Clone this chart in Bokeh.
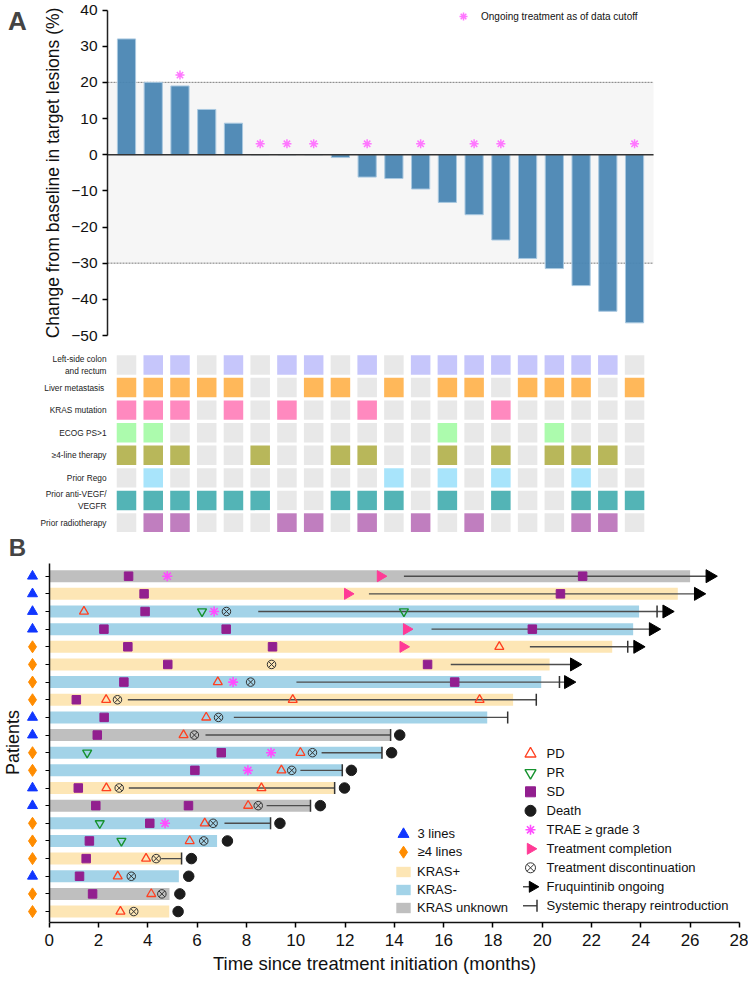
import math
from bokeh.plotting import figure
from bokeh.models import (Range1d, FixedTicker, BoxAnnotation, Label,
                          Legend, LegendItem, ColumnDataSource)
from bokeh.layouts import column
from bokeh.embed import file_html
from bokeh.resources import INLINE

FONT = "Liberation Sans"

# ---------------- Panel A data ----------------
patient_idx = list(range(20))
change_pct = [32.0, 20.0, 19.0, 12.5, 8.7, 0.0, 0.0, 0.0, -0.8, -6.2,
              -6.6, -9.5, -13.2, -16.6, -23.6, -28.7, -31.5, -36.2, -43.3, -46.5]
ongoing_flag = [0, 0, 1, 0, 0, 1, 1, 1, 0, 1, 0, 1, 0, 1, 1, 0, 0, 0, 0, 1]
y_ticks_a = [-50, -40, -30, -20, -10, 0, 10, 20, 30, 40]
pd_threshold = 20
pr_threshold = -30

grid_labels = ["Left-side colon\nand rectum", "Liver  metastasis", "KRAS mutation",
               "ECOG PS>1", "\u22654-line therapy", "Prior Rego",
               "Prior anti-VEGF/\nVEGFR", "Prior radiotherapy"]
grid_colors = ["#c6c6fb", "#ffb85a", "#ff89bf", "#acfbad", "#b8b75a",
               "#a8e4fb", "#53b4b6", "#c07ebf"]
left_side  = [0, 1, 1, 0, 1, 0, 1, 1, 0, 1, 0, 1, 1, 1, 1, 1, 1, 1, 1, 0]
liver_met  = [1, 1, 1, 1, 1, 0, 0, 1, 1, 0, 1, 0, 1, 1, 0, 1, 1, 1, 0, 1]
kras_mut   = [1, 1, 1, 0, 1, 0, 1, 0, 0, 1, 0, 0, 0, 0, 1, 0, 0, 0, 0, 0]
ecog_ps    = [1, 1, 0, 0, 0, 0, 0, 0, 0, 0, 0, 0, 1, 0, 0, 0, 1, 0, 0, 0]
line4_plus = [1, 1, 1, 0, 0, 1, 0, 0, 1, 1, 0, 0, 1, 0, 1, 0, 1, 1, 1, 0]
prior_rego = [0, 1, 0, 0, 0, 0, 0, 0, 0, 0, 1, 0, 1, 0, 1, 0, 0, 1, 0, 0]
prior_vegf = [1, 1, 1, 1, 1, 1, 0, 0, 1, 1, 1, 0, 1, 0, 1, 0, 0, 1, 1, 1]
prior_radio = [0, 1, 1, 0, 0, 0, 1, 1, 0, 1, 0, 1, 0, 1, 0, 0, 0, 1, 1, 0]
grid_rows = [left_side, liver_met, kras_mut, ecog_ps, line4_plus,
             prior_rego, prior_vegf, prior_radio]

# ---------------- Panel B data ----------------
row_idx = list(range(1, 21))
bar_end = [26.0, 25.5, 23.93, 23.69, 22.84, 20.3, 19.96, 18.82, 17.77, 13.85,
           13.5, 11.89, 11.58, 10.6, 8.98, 6.81, 5.37, 5.26, 4.88, 4.87]
kras_status = ["unknown", "+", "-", "-", "+", "+", "-", "+", "-", "unknown",
               "-", "-", "+", "unknown", "-", "-", "+", "-", "unknown", "+"]
prior_lines = ["3", "3", "3", "3", "4+", "4+", "4+", "4+", "3", "3",
               "4+", "4+", "3", "3", "4+", "4+", "4+", "3", "4+", "4+"]
sd_times = [[3.22, 21.64], [3.85, 20.74], [3.89], [2.22, 7.18, 19.6], [3.19, 9.06],
            [4.81, 15.35], [3.03, 16.45], [1.10], [2.23], [1.95], [6.98], [5.91],
            [1.18], [1.89, 5.65], [4.08], [1.63], [1.50], [1.23], [1.76], []]
pd_times = [[], [], [1.41], [], [18.26], [], [6.84], [2.31, 9.88, 17.46], [6.37],
            [5.45], [10.19], [9.42], [2.32, 8.61], [8.07], [6.31], [5.70], [3.93],
            [2.78], [4.14], [2.89]]
pr_times = [[], [], [6.20, 14.39], [], [], [], [], [], [], [], [1.54], [], [], [],
            [2.05], [2.93], [], [], [], []]
trae_times = [[4.79], [], [6.69], [], [], [], [7.46], [], [], [], [9.00], [8.06],
              [], [], [4.70], [], [], [], [], []]
completion_times = [[13.44], [12.11], [], [14.50], [14.36], [], [], [], [], [],
                    [], [], [], [], [], [], [], [], [], []]
discontinuation = [None, None, 7.19, None, None, 9.02, 8.17, 2.77, 6.87, 5.89,
                   10.68, 9.84, 2.84, 8.48, 6.65, 6.27, 4.34, 3.33, 4.57, 3.43]
death = [None, None, None, None, None, None, None, None, None, 14.22,
         13.89, 12.26, 11.98, 11.00, 9.36, 7.23, 5.77, 5.66, 5.30, 5.23]
followup_start = [14.39, 12.97, 8.48, 15.51, 19.50, 16.29, 10.03, 3.19, 7.49, 6.34,
                  11.05, 10.19, 3.23, 8.82, 7.11, None, 4.54, None, None, None]
reintroduction = [None, None, 24.66, None, 23.47, None, 20.70, 19.76, 18.60, 13.85,
                  13.50, 11.89, 11.58, 10.60, 8.98, None, 5.37, None, None, None]
fruq_ongoing = [26.8, 26.33, 25.05, 24.5, 23.87, 21.3, 21.06, None, None, None,
                None, None, None, None, None, None, None, None, None, None]
x_ticks_b = list(range(0, 29, 2))

W = 748

def base_fig(h, xr, yr):
    p = figure(width=W, height=h, output_backend="svg", toolbar_location=None,
               x_range=xr, y_range=yr, min_border=0, min_border_left=0,
               min_border_right=0, min_border_top=0, min_border_bottom=0)
    p.outline_line_color = None
    p.xgrid.visible = False
    p.ygrid.visible = False
    return p

# =============== Panel A: waterfall ===============
HA = 345
PX_A = 26.74                      # px per patient slot
A_TOP, A_BOT = 9.5, 335.0         # pixel rows of +40 and -50
YA_PX = (A_BOT - A_TOP) / 90.0
xa0 = -126.0 / PX_A
xA = Range1d(xa0, xa0 + W / PX_A)
yA = Range1d(-50 - (HA - A_BOT) / YA_PX, 40 + A_TOP / YA_PX)
pA = base_fig(HA, xA, yA)
pA.xaxis.visible = False
band_lo = patient_idx[0] - 0.71
band_hi = patient_idx[-1] + 0.71

pA.add_layout(BoxAnnotation(left=band_lo, right=band_hi, bottom=pr_threshold, top=pd_threshold,
                            fill_color="#f6f6f6", fill_alpha=1.0, line_color=None, level="underlay"))
pA.segment(x0=[band_lo, band_lo], x1=[band_hi, band_hi], y0=[pd_threshold, pr_threshold],
           y1=[pd_threshold, pr_threshold], line_color="#7a7a7a", line_width=1, line_dash="2 1")
srcA = ColumnDataSource(dict(x=patient_idx, top=change_pct))
pA.vbar(x="x", top="top", bottom=0, width=0.68, source=srcA, fill_color="#4a86b3",
        fill_alpha=0.95, line_color="#a9c8e0", line_width=1)
pA.segment(x0=[band_lo], x1=[band_hi], y0=[0], y1=[0], line_color="#333333", line_width=1.5)
star_x = [i for i, f in zip(patient_idx, ongoing_flag) if f]
star_y = [max(change_pct[i], 0) + 3 for i in star_x]
star_r = pA.scatter(star_x, star_y, marker="asterisk", size=9,
                    line_color="#ff77ff", line_width=1.5)

ya = pA.yaxis[0]
ya.fixed_location = band_lo
ya.ticker = FixedTicker(ticks=y_ticks_a)
ya.bounds = (-50, 40)
ya.axis_line_width = 1.5
ya.axis_line_color = "#222222"
ya.major_tick_out = 5
ya.major_tick_in = 0
ya.major_tick_line_width = 1.5
ya.minor_tick_out = 0
ya.minor_tick_in = 0
ya.major_label_standoff = 5
ya.major_label_text_font = FONT
ya.major_label_text_font_size = "15.5px"
ya.major_label_text_color = "#111111"
ya.axis_label = "Change from baseline in target lesions (%)"
ya.axis_label_text_font = FONT
ya.axis_label_text_font_size = "17.5px"
ya.axis_label_text_font_style = "normal"
ya.axis_label_text_color = "#111111"
ya.axis_label_standoff = 5

legA = Legend(items=[LegendItem(label="Ongoing treatment as of data cutoff", renderers=[star_r])],
              location=(453, HA - 26), glyph_width=20, glyph_height=20, label_height=20,
              label_standoff=8, padding=0, margin=0, border_line_color=None,
              background_fill_alpha=0, label_text_font=FONT, label_text_font_size="10px",
              label_text_color="#111111")
pA.add_layout(legA)
pA.add_layout(Label(x=xa0 + 17 / PX_A, y=yA.end - 20 / YA_PX, text="A",
                    text_font=FONT, text_font_size="26px", text_font_style="bold",
                    text_align="center", text_baseline="middle"))

# =============== Characteristic grid ===============
HG = 187
GP = 22.57
g0 = -(364.5 - HA) / GP
pG = base_fig(HG, xA, Range1d(g0 + HG / GP, g0))
pG.xaxis.visible = False
gx, gy, gc = [], [], []
for r, (vals, col) in enumerate(zip(grid_rows, grid_colors)):
    for i, v in zip(patient_idx, vals):
        gx.append(i)
        gy.append(r)
        gc.append(col if v else "#e8e8e8")
pG.rect(x=gx, y=gy, width=0.73, height=0.86, fill_color=gc, line_color=None)
yg = pG.yaxis[0]
yg.fixed_location = band_lo
yg.ticker = FixedTicker(ticks=list(range(len(grid_labels))))
yg.major_label_overrides = {i: lab for i, lab in enumerate(grid_labels)}
yg.axis_line_color = None
yg.major_tick_line_color = None
yg.minor_tick_line_color = None
yg.major_tick_out = 0
yg.major_tick_in = 0
yg.major_label_standoff = 1
yg.major_label_text_font = FONT
yg.major_label_text_font_size = "8.3px"
yg.major_label_text_color = "#222222"

# =============== Panel B: swimmer ===============
B_TOP = HA + HG                     # 532
PX_B = 24.65          # px per month
PY_B = 17.65          # px per patient row
xb0 = -48.7 / PX_B
yb0 = 1 - (575.7 - B_TOP) / PY_B
FRAME_B_BOTTOM = 922                 # page row of frame bottom
FRAME_B_H = FRAME_B_BOTTOM - B_TOP
HB = 981 - B_TOP
xB = Range1d(xb0, xb0 + W / PX_B)
yB = Range1d(yb0 + FRAME_B_H / PY_B, yb0)
pB = base_fig(HB, xB, yB)
pB.min_border_bottom = HB - FRAME_B_H

def bx(px):
    return xb0 + px / PX_B

def by(py):
    return yb0 + (py - B_TOP) / PY_B

kras_fill = {"+": "#fde6b5", "-": "#a3d3e8", "unknown": "#bfbfbf"}
bar_r = {}
for k in ["+", "-", "unknown"]:
    rows = [r for r, kk in zip(row_idx, kras_status) if kk == k]
    ends = [e for e, kk in zip(bar_end, kras_status) if kk == k]
    bar_r[k] = pB.hbar(y=rows, left=0, right=ends, height=0.68,
                       fill_color=kras_fill[k], line_color=None)

sx0, sx1, sy = [], [], []
for r, s, a, t in zip(row_idx, followup_start, fruq_ongoing, reintroduction):
    if s is None:
        continue
    sx0.append(s)
    sx1.append(a if a is not None else t)
    sy.append(r)
LINE_STYLE = dict(line_color="#4d4d4d", line_width=1.4)
pB.segment(x0=sx0, y0=sy, x1=sx1, y1=sy, **LINE_STYLE)

def flatten(times_by_row):
    xs, ys = [], []
    for r, ts in zip(row_idx, times_by_row):
        for t in ts:
            xs.append(t)
            ys.append(r)
    return xs, ys

def single(vals):
    xs, ys = [], []
    for r, t in zip(row_idx, vals):
        if t is not None:
            xs.append(t)
            ys.append(r)
    return xs, ys

TICK_STYLE = dict(marker="dash", angle=math.pi / 2, line_color="#333333", line_width=1.5)
ARROW_STYLE = dict(marker="triangle", angle=-math.pi / 2, fill_color="black", line_color="black")
COMP_STYLE = dict(marker="triangle", angle=-math.pi / 2, fill_color="#ff3a96", line_color="#ff3a96")
SD_STYLE = dict(marker="square", fill_color="#921f8f", line_color="#921f8f")
PD_STYLE = dict(marker="triangle", fill_color=None, line_color="#ff4020", line_width=1.3)
PR_STYLE = dict(marker="inverted_triangle", fill_color=None, line_color="#16922e", line_width=1.4)
TRAE_STYLE = dict(marker="asterisk", line_color="#ff4dff", line_width=1.6)
DISC_STYLE = dict(marker="circle_x", fill_color=None, line_color="#333333", line_width=1)
DEATH_STYLE = dict(marker="circle", fill_color="#1c1c1c", line_color="#1c1c1c")
L3_STYLE = dict(marker="triangle", fill_color="#1036ff", line_color="#1036ff")
L4_STYLE = dict(marker="diamond", fill_color="#ff8c00", line_color="#ff8c00")

rx, ry = single(reintroduction)
pB.scatter(rx, ry, size=12, **TICK_STYLE)
ax, ay = single(fruq_ongoing)
pB.scatter(ax, ay, size=13, **ARROW_STYLE)
x, y = flatten(sd_times)
pB.scatter(x, y, size=8.5, **SD_STYLE)
x, y = flatten(pd_times)
pB.scatter(x, y, size=9, **PD_STYLE)
x, y = flatten(pr_times)
pB.scatter(x, y, size=9, **PR_STYLE)
x, y = flatten(trae_times)
pB.scatter(x, y, size=10, **TRAE_STYLE)
x, y = flatten(completion_times)
pB.scatter(x, y, size=11, **COMP_STYLE)
x, y = single(discontinuation)
pB.scatter(x, y, size=8.5, **DISC_STYLE)
x, y = single(death)
pB.scatter(x, y, size=10.5, **DEATH_STYLE)

line_marker_x = bx(32)
r3 = [r for r, l in zip(row_idx, prior_lines) if l == "3"]
r4 = [r for r, l in zip(row_idx, prior_lines) if l == "4+"]
pB.scatter([line_marker_x] * len(r3), r3, size=10, **L3_STYLE)
pB.scatter([line_marker_x] * len(r4), r4, size=12, **L4_STYLE)

# ---- legends: labels laid out by Legend, swatches drawn beside them ----
blank_r = pB.scatter(x=[], y=[], marker="square", fill_alpha=0, line_alpha=0)
EV_X, EV_Y0, EV_P = 530.0, 753.3, 19.0       # swatch centre x, first row y, row pitch
ev_swatches = [(PD_STYLE, 11), (PR_STYLE, 11), (SD_STYLE, 10), (DEATH_STYLE, 11),
               (TRAE_STYLE, 10), (COMP_STYLE, 11), (DISC_STYLE, 10)]
for i, (st, sz) in enumerate(ev_swatches):
    pB.scatter([bx(EV_X)], [by(EV_Y0 + i * EV_P)], size=sz, **st)
y_on = by(EV_Y0 + 7 * EV_P)
pB.segment(x0=[bx(522.5)], x1=[bx(531)], y0=[y_on], y1=[y_on], **LINE_STYLE)
pB.scatter([bx(532)], [y_on], size=11, **ARROW_STYLE)
y_re = by(EV_Y0 + 8 * EV_P)
pB.segment(x0=[bx(522.5)], x1=[bx(536.5)], y0=[y_re], y1=[y_re], **LINE_STYLE)
pB.scatter([bx(536.5)], [y_re], size=12, **TICK_STYLE)

LN_X, LN_Y0, LN_P = 403.0, 833.7, 18.0
pB.scatter([bx(LN_X)], [by(LN_Y0)], size=11, **L3_STYLE)
pB.scatter([bx(LN_X)], [by(LN_Y0 + LN_P)], size=12, **L4_STYLE)

common = dict(padding=0, margin=0, border_line_color=None, background_fill_alpha=0,
              label_text_font=FONT, label_text_font_size="13px", label_text_color="#111111")
ev_labels = ["PD", "PR", "SD", "Death", "TRAE \u2265 grade 3", "Treatment completion",
             "Treatment discontinuation", "Fruquintinib ongoing",
             "Systemic therapy reintroduction"]
leg_events = Legend(items=[LegendItem(label=t, renderers=[blank_r]) for t in ev_labels],
                    location=(EV_X - 12.5, FRAME_B_BOTTOM - (EV_Y0 + 8 * EV_P + EV_P / 2)),
                    glyph_width=25, glyph_height=int(EV_P), label_height=int(EV_P),
                    spacing=0, label_standoff=4, **common)
leg_lines = Legend(items=[LegendItem(label="3 lines", renderers=[blank_r]),
                          LegendItem(label="\u22654 lines", renderers=[blank_r])],
                   location=(LN_X - 12.5, FRAME_B_BOTTOM - (LN_Y0 + LN_P + LN_P / 2)),
                   glyph_width=25, glyph_height=int(LN_P), label_height=int(LN_P),
                   spacing=0, label_standoff=2, **common)
leg_kras = Legend(items=[LegendItem(label="KRAS+", renderers=[bar_r["+"]]),
                         LegendItem(label="KRAS-", renderers=[bar_r["-"]]),
                         LegendItem(label="KRAS unknown", renderers=[bar_r["unknown"]])],
                  location=(394, 7), glyph_width=18, glyph_height=13, label_height=16,
                  spacing=2, label_standoff=5, **common)
for lg in (leg_lines, leg_kras, leg_events):
    pB.add_layout(lg)

yb = pB.yaxis[0]
yb.fixed_location = 0
yb.bounds = (by(563), yB.start)
yb.ticker = FixedTicker(ticks=row_idx)
yb.major_label_overrides = {r: "" for r in row_idx}
yb.axis_line_width = 1.5
yb.axis_line_color = "#111111"
yb.major_tick_out = 4
yb.major_tick_in = 0
yb.major_tick_line_width = 1.2
yb.minor_tick_out = 0
yb.minor_tick_in = 0

xb = pB.xaxis[0]
xb.ticker = FixedTicker(ticks=x_ticks_b)
xb.bounds = (0, 28)
xb.axis_line_width = 1.5
xb.axis_line_color = "#111111"
xb.major_tick_out = 5
xb.major_tick_in = 0
xb.major_tick_line_width = 1.5
xb.minor_tick_out = 0
xb.minor_tick_in = 0
xb.major_label_standoff = 6
xb.major_label_text_font = FONT
xb.major_label_text_font_size = "17px"
xb.major_label_text_color = "#111111"
xb.axis_label = "Time since treatment initiation (months)"
xb.axis_label_text_font = FONT
xb.axis_label_text_font_size = "18.5px"
xb.axis_label_text_font_style = "normal"
xb.axis_label_text_color = "#111111"
xb.axis_label_standoff = 4

pB.add_layout(Label(x=bx(12), y=by(742), text="Patients", angle=math.pi / 2,
                    text_font=FONT, text_font_size="18px", text_align="center",
                    text_baseline="middle", text_color="#111111"))
pB.add_layout(Label(x=bx(17), y=by(547), text="B", text_font=FONT, text_font_size="24px",
                    text_font_style="bold", text_align="center", text_baseline="middle"))

layout = column(pA, pG, pB, spacing=0)
open("out.html", "w").write(file_html(layout, INLINE))
